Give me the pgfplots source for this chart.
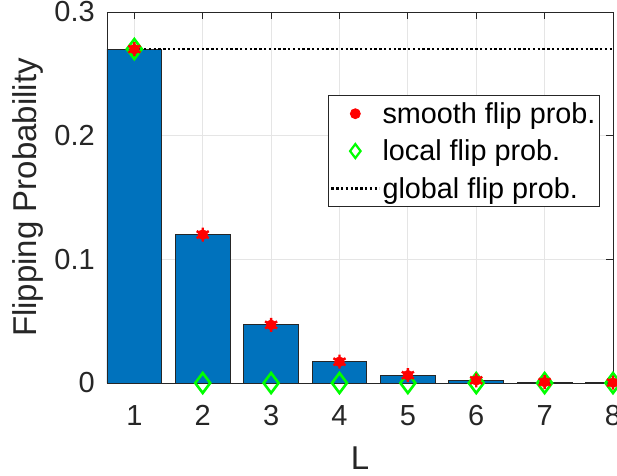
\documentclass[border=0pt]{standalone}
\usepackage{fontspec}
\setmainfont{Liberation Sans}
\usepackage{pgfplots}
\pgfplotsset{compat=1.18}
\definecolor{mblue}{RGB}{0,114,189}
\definecolor{mgray}{RGB}{38,38,38}
\definecolor{mgreen}{RGB}{0,255,0}
\pgfplotsset{
  markleg/.style={legend image code/.code={\path (0pt,0pt) (48pt,0pt); \draw[##1] plot coordinates {(24pt,0pt)};}},
  lineleg/.style={legend image code/.code={\draw[##1] (0pt,0pt) -- (48pt,0pt);}},
}
\begin{document}
\begin{tikzpicture}
\begin{axis}[
  scale only axis,
  width=506pt, height=371pt,
  xmin=0.6, xmax=8, ymin=0, ymax=0.3,
  xtick={1,...,8}, ytick={0,0.1,0.2,0.3},
  /pgf/number format/assume math mode=true,
  tick label style={font=\fontsize{29}{32}\selectfont, text=mgray, inner sep=0pt},
  xticklabel style={anchor=base, yshift=-42pt},
  yticklabel style={anchor=east, xshift=-12pt},
  yticklabel={\pgfmathprintnumber[fixed,precision=1]{\tick}},
  tick align=inside, major tick length=7pt,
  every tick/.style={mgray, line width=0.8pt},
  axis line style={mgray, line width=0.9pt},
  grid=major, major grid style={gray!20, line width=0.8pt},
  xlabel={L}, ylabel={Flipping Probability},
  label style={font=\fontsize{33}{36}\selectfont, text=mgray},
  xlabel style={at={(rel axis cs:0.5,0)}, anchor=center, yshift=-75pt},
  ylabel style={at={(rel axis cs:0,0.5)}, anchor=center, yshift=79pt},
  legend style={at={(rel axis cs:0.974,0.776)}, anchor=north east,
    draw=mgray, line width=0.8pt, inner xsep=2pt, inner ysep=7pt,
    font=\fontsize{28.8}{30}\selectfont, row sep=15pt,
    nodes={inner xsep=2pt, inner ysep=0pt},
    /tikz/every even column/.append style={column sep=0pt}},
  legend cell align=left,
]
\addlegendimage{markleg, only marks, mark=*, red, mark size=5pt}
\addlegendentry{smooth flip prob.}
\addlegendimage{markleg, only marks, mark=diamond, mgreen, mark size=7pt, line width=2.2pt}
\addlegendentry{local flip prob.}
\addlegendimage{lineleg, black, line width=2.4pt, dash pattern=on 2.4pt off 2.4pt}
\addlegendentry{global flip prob.}

% bars
\addplot[ybar, bar width=0.8, fill=mblue, draw=black!85, line width=0.8pt, forget plot]
coordinates {(1,0.27) (2,0.12) (3,0.047) (4,0.0172) (5,0.0063) (6,0.0022) (7,0.0008) (8,0.0003)};
% global flip prob.
\addplot[black, line width=2.4pt, dash pattern=on 2.4pt off 2.4pt, forget plot]
coordinates {(1,0.27) (8,0.27)};
% local flip prob.
\addplot[only marks, mark=diamond, mgreen, mark size=10pt, line width=2.6pt, forget plot]
coordinates {(1,0.27) (2,0) (3,0) (4,0) (5,0) (6,0) (7,0) (8,0)};
% smooth flip prob.
\addplot[only marks, mark=*, red, mark size=5pt, forget plot]
coordinates {(1,0.27) (2,0.12) (3,0.047) (4,0.0172) (5,0.0063) (6,0.0022) (7,0.0008) (8,0.0003)};
\addplot[only marks, mark=asterisk, red, mark size=7pt, line width=2.4pt, forget plot]
coordinates {(1,0.27) (2,0.12) (3,0.047) (4,0.0172) (5,0.0063) (6,0.0022) (7,0.0008) (8,0.0003)};
\end{axis}
\pgfresetboundingbox
\path[use as bounding box] (current axis.south west) ++(-107pt,-92pt) rectangle ++(617pt,475pt);
\end{tikzpicture}
\end{document}
